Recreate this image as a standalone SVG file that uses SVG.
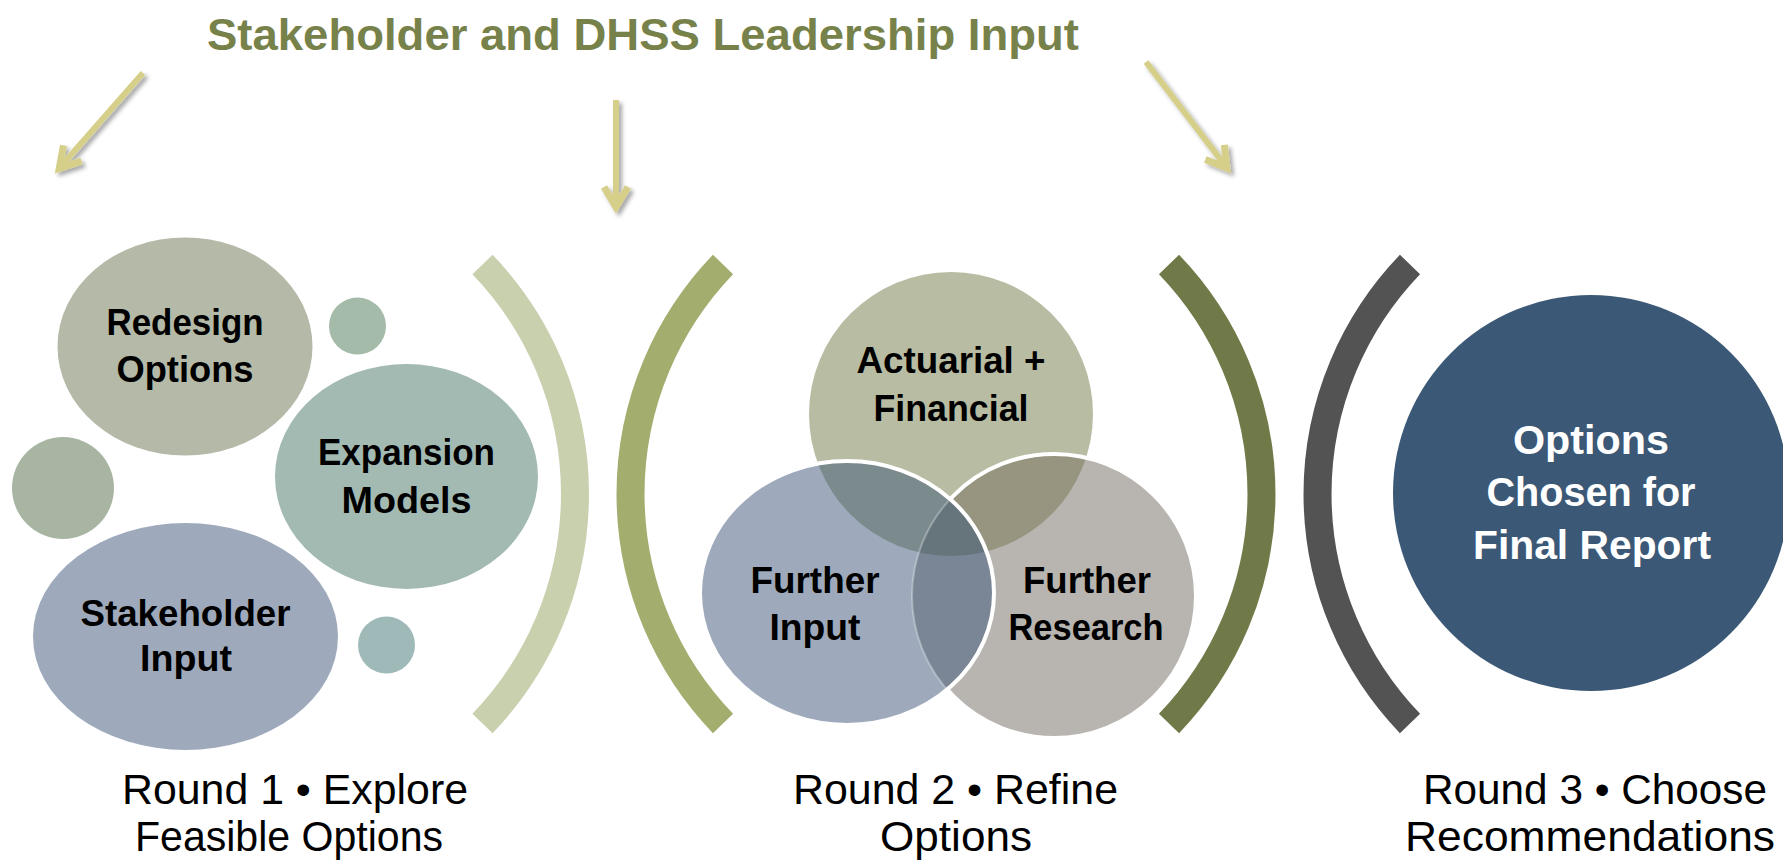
<svg xmlns="http://www.w3.org/2000/svg" width="1783" height="864" viewBox="0 0 1783 864">
<style>
.lbl{font-family:"Liberation Sans",Arial,sans-serif;font-weight:bold;font-size:36px;fill:#000;text-anchor:middle}
.wlbl{font-family:"Liberation Sans",Arial,sans-serif;font-weight:bold;font-size:40px;fill:#fff;text-anchor:middle}
.cap{font-family:"Liberation Sans",Arial,sans-serif;font-size:42px;fill:#000;text-anchor:middle}
.title{font-family:"Liberation Sans",Arial,sans-serif;font-weight:bold;font-size:45px;fill:#77814a;text-anchor:middle}
.arw{fill:none;stroke:#d5cf8a;stroke-width:6}
.arc{fill:none;stroke-width:28}
</style>
<defs>
<filter id="sh" x="-30%" y="-30%" width="160%" height="160%">
<feDropShadow dx="3" dy="3" stdDeviation="2" flood-color="#000" flood-opacity="0.35"/>
</filter>
<marker id="ah" markerUnits="userSpaceOnUse" viewBox="-30 -20 40 40" markerWidth="40" markerHeight="40" refX="0" refY="0" orient="auto" overflow="visible">
<path d="M-20,-12 L0,0 L-20,12" fill="none" stroke="#d5cf8a" stroke-width="7"/>
</marker>
<clipPath id="cA"><ellipse cx="951" cy="414" rx="142" ry="142"/></clipPath>
<clipPath id="cR"><ellipse cx="1054" cy="596" rx="142" ry="142"/></clipPath>
<clipPath id="cI"><ellipse cx="847" cy="593" rx="147" ry="132"/></clipPath>
</defs>

<text id="title" class="title" x="643" y="50" textLength="872" lengthAdjust="spacingAndGlyphs">Stakeholder and DHSS Leadership Input</text>

<g id="connectors" filter="url(#sh)">
<path class="arw" d="M143,73 L59.3,168.3" marker-end="url(#ah)"/>
<path class="arw" d="M616,100 L616,207" marker-end="url(#ah)"/>
<path class="arw" d="M1146,62 L1227,168" marker-end="url(#ah)"/>
</g>

<g id="brackets">
<path class="arc" stroke="#c9d0ae" d="M482.5,264.5 A331,331 0 0 1 482.5,723.5"/>
<path class="arc" stroke="#a3ad6e" d="M723,264.5 A331,331 0 0 0 723,723.5"/>
<path class="arc" stroke="#6f7a48" d="M1169,264.5 A331,331 0 0 1 1169,723.5"/>
<path class="arc" stroke="#535353" d="M1410,264.5 A331,331 0 0 0 1410,723.5"/>
</g>

<g id="round1">
<g id="redesign">
<ellipse cx="185" cy="346.5" rx="127.5" ry="109" fill="#b4b9a8"/>
<text class="lbl" x="185" y="335" textLength="157" lengthAdjust="spacingAndGlyphs">Redesign</text>
<text class="lbl" x="185" y="382" textLength="137" lengthAdjust="spacingAndGlyphs">Options</text>
</g>
<circle id="dot1" cx="357.5" cy="326" r="28.5" fill="#a5bbaa"/>
<ellipse id="dot2" cx="63" cy="488" rx="51" ry="51" fill="#a8b5a2"/>
<g id="expansion">
<ellipse cx="406.5" cy="476.5" rx="131.5" ry="112.5" fill="#a3bab3"/>
<text class="lbl" x="406.5" y="465" textLength="177" lengthAdjust="spacingAndGlyphs">Expansion</text>
<text class="lbl" x="406.5" y="512.5" textLength="130" lengthAdjust="spacingAndGlyphs">Models</text>
</g>
<g id="stakeholder">
<ellipse cx="185.5" cy="636.5" rx="152.5" ry="113.5" fill="#9eaabb"/>
<text class="lbl" x="185.5" y="625.5" textLength="210" lengthAdjust="spacingAndGlyphs">Stakeholder</text>
<text class="lbl" x="186" y="671" textLength="92" lengthAdjust="spacingAndGlyphs">Input</text>
</g>
<circle id="dot3" cx="386.5" cy="645" r="28.5" fill="#9fb9b9"/>
</g>

<g id="round2">
<g id="actuarial">
<ellipse cx="951" cy="414" rx="142" ry="142" fill="#b7bca2"/>
</g>
<g id="research">
<ellipse cx="1054" cy="596" rx="142" ry="142" fill="#b8b5b0"/>
<ellipse cx="1054" cy="596" rx="142" ry="142" fill="#979580" clip-path="url(#cA)"/>
<ellipse cx="1054" cy="596" rx="142" ry="142" fill="none" stroke="#fff" stroke-width="4"/>
</g>
<g id="input">
<ellipse cx="847" cy="593" rx="147" ry="132" fill="#9eaabb"/>
<ellipse cx="847" cy="593" rx="147" ry="132" fill="#7b8a8c" clip-path="url(#cA)"/>
<ellipse cx="847" cy="593" rx="147" ry="132" fill="#7a8696" clip-path="url(#cR)"/>
<g clip-path="url(#cA)"><ellipse cx="847" cy="593" rx="147" ry="132" fill="#66747c" clip-path="url(#cR)"/></g>
<ellipse cx="1054" cy="596" rx="142" ry="142" fill="none" stroke="#fff" stroke-opacity="0.3" stroke-width="2" clip-path="url(#cI)"/>
<ellipse cx="847" cy="593" rx="147" ry="132" fill="none" stroke="#fff" stroke-width="4"/>
</g>
<g id="venn-labels">
<text class="lbl" x="951" y="373" textLength="189" lengthAdjust="spacingAndGlyphs">Actuarial +</text>
<text class="lbl" x="951" y="421" textLength="155" lengthAdjust="spacingAndGlyphs">Financial</text>
<text class="lbl" x="815" y="593" textLength="129" lengthAdjust="spacingAndGlyphs">Further</text>
<text class="lbl" x="815" y="640" textLength="91" lengthAdjust="spacingAndGlyphs">Input</text>
<text class="lbl" x="1087" y="593" textLength="128" lengthAdjust="spacingAndGlyphs">Further</text>
<text class="lbl" x="1086" y="640" textLength="155" lengthAdjust="spacingAndGlyphs">Research</text>
</g>
</g>

<g id="round3">
<circle cx="1591" cy="493" r="198" fill="#3b5876"/>
<text class="wlbl" x="1591" y="454" textLength="156" lengthAdjust="spacingAndGlyphs">Options</text>
<text class="wlbl" x="1591" y="506" textLength="209" lengthAdjust="spacingAndGlyphs">Chosen for</text>
<text class="wlbl" x="1592" y="559" textLength="238" lengthAdjust="spacingAndGlyphs">Final Report</text>
</g>

<g id="captions">
<text class="cap" x="295" y="804" textLength="346" lengthAdjust="spacingAndGlyphs">Round 1 • Explore</text>
<text class="cap" x="289" y="851" textLength="308" lengthAdjust="spacingAndGlyphs">Feasible Options</text>
<text class="cap" x="955.5" y="804" textLength="325" lengthAdjust="spacingAndGlyphs">Round 2 • Refine</text>
<text class="cap" x="956" y="851" textLength="152" lengthAdjust="spacingAndGlyphs">Options</text>
<text class="cap" x="1595" y="804" textLength="344" lengthAdjust="spacingAndGlyphs">Round 3 • Choose</text>
<text class="cap" x="1590" y="851" textLength="370" lengthAdjust="spacingAndGlyphs">Recommendations</text>
</g>
</svg>
